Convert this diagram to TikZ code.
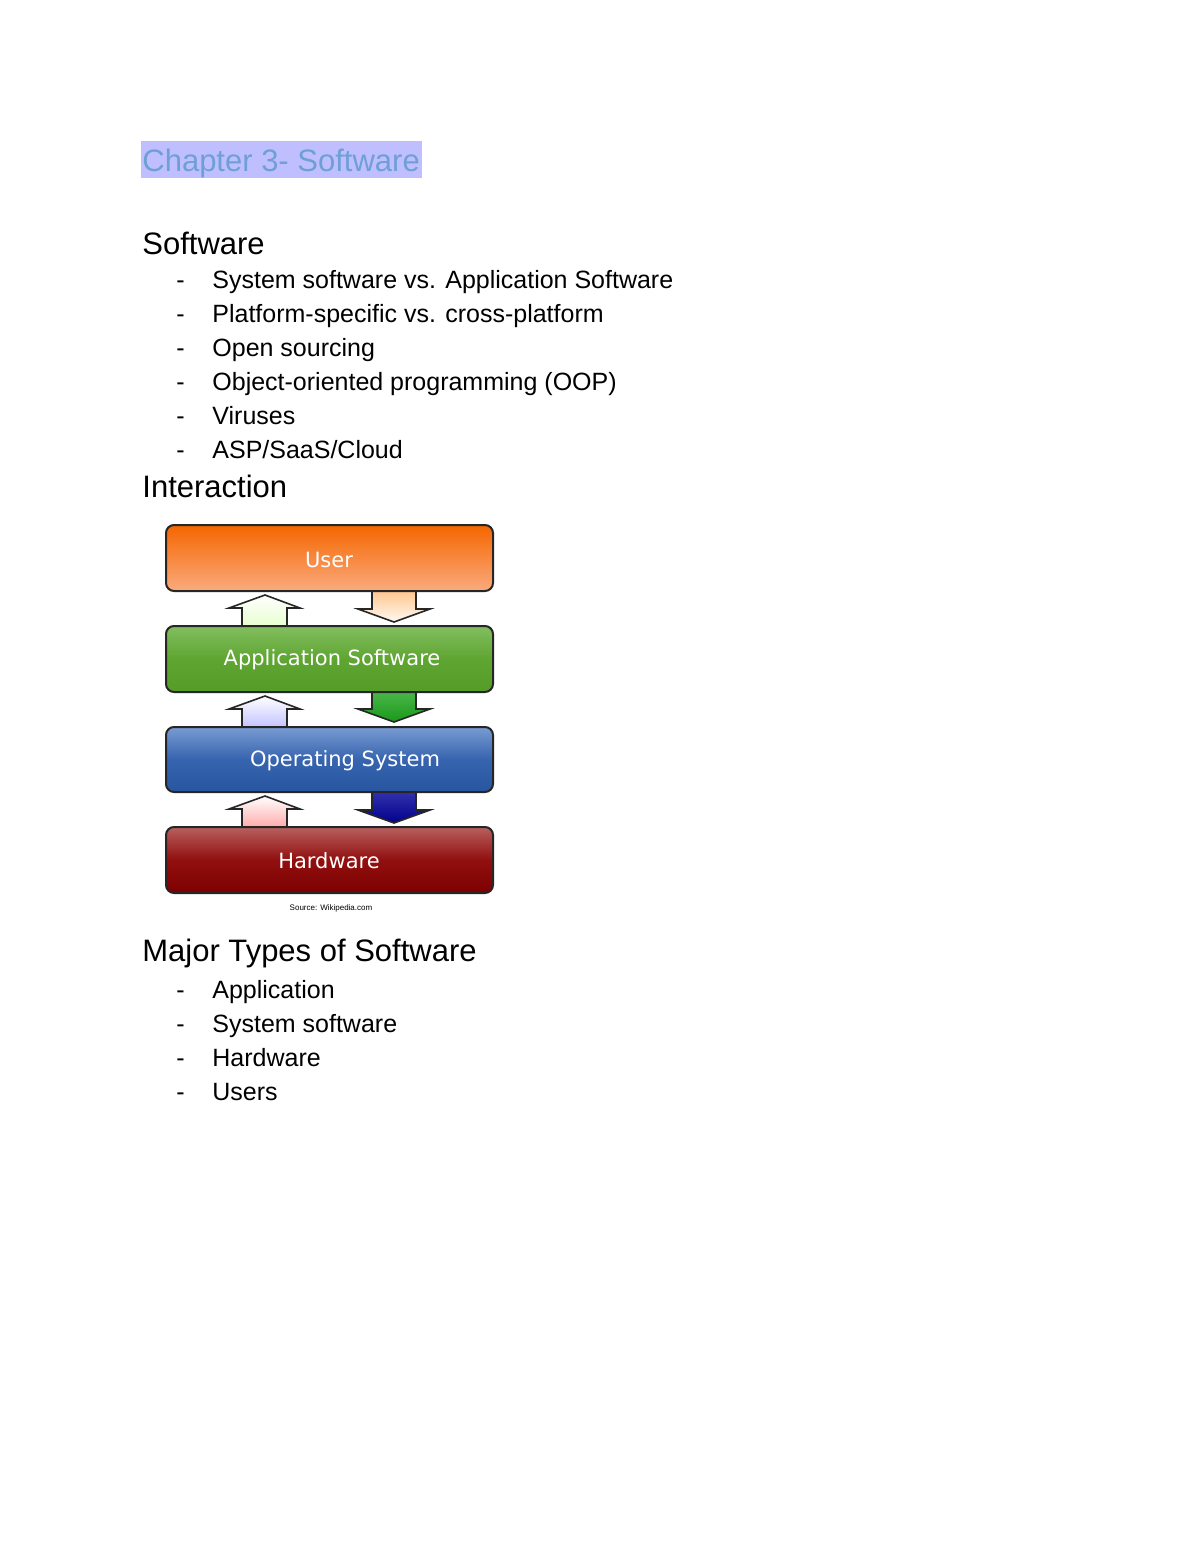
\documentclass[tikz,border=0pt]{standalone}
\usepackage{fontspec}
\setmainfont{Liberation Sans}
\newfontfamily\dejavu{DejaVu Sans}
\begin{document}
\begin{tikzpicture}[x=0.5pt,y=-0.5pt,
  txt/.style={anchor=base west,inner sep=0pt,font=\fontsize{12.5}{14}\selectfont},
  head/.style={anchor=base west,inner sep=0pt,font=\fontsize{15.5}{18}\selectfont},
  layer/.style={draw=black!85,line width=1pt,rounded corners=4pt},
  lab/.style={text=white,font=\dejavu\fontsize{10.5}{12}\selectfont,inner sep=0pt}]
\useasboundingbox (0,0) rectangle (1200,1553);
\fill[white] (0,0) rectangle (1200,1553);
% title
\fill[blue!30!cyan!20!white, fill=blue!25!white] (141,141) rectangle (422,178);
\node[head,text={rgb,255:red,110;green,160;blue,215}] (title) at (142,171) {Chapter 3- Software};
\node[head] (sw) at (142,254) {Software};
\foreach \t [count=\i] in {System software vs. Application Software,Platform-specific vs. cross-platform,Open sourcing,Object-oriented programming (OOP),Viruses,ASP/SaaS/Cloud}{
  \node[txt] (d\i) at (176,{288+34*(\i-1)}) {-};
  \node[txt] (b\i) at (212,{288+34*(\i-1)}) {\t};
}
\node[head] (inter) at (142,497) {Interaction};
% arrows
\newcommand\uparr[3]{% y top tip, top color, bottom color
  \shade[top color=#2,bottom color=#3,draw=black!85,line width=0.8pt]
   (265,#1) -- (300,{#1+13}) -- (287,{#1+13}) -- (287,{#1+33}) -- (242,{#1+33}) -- (242,{#1+13}) -- (229,{#1+13}) -- cycle;}
\newcommand\dnarr[3]{% y top, tip at y+32
  \shade[top color=#2,bottom color=#3,draw=black!85,line width=0.8pt]
   (372,#1) -- (416,#1) -- (416,{#1+19}) -- (430,{#1+19}) -- (394,{#1+32}) -- (358,{#1+19}) -- (372,{#1+19}) -- cycle;}
\uparr{595}{white}{green!35!lime!20!white}
\dnarr{590}{orange!45!white}{orange!5!white}
\uparr{696}{white}{blue!25!white}
\dnarr{690}{green!60!black!70!white}{green!55!black!90!white}
\uparr{796}{white}{red!35!white}
\dnarr{791}{blue!60!black!80!white}{blue!55!black}
% layers
\shade[layer,top color={rgb,255:red,245;green,102;blue,0},bottom color={rgb,255:red,250;green,170;blue,125}] (166,525) rectangle (493,591);
\node[lab] (u) at (329,560) {User};
\shade[layer,top color={rgb,255:red,130;green,190;blue,95},bottom color={rgb,255:red,85;green,155;blue,40},middle color={rgb,255:red,95;green,165;blue,50}] (166,626) rectangle (493,692);
\node[lab] (a) at (332,660) {Application Software};
\shade[layer,top color={rgb,255:red,120;green,155;blue,210},bottom color={rgb,255:red,40;green,85;blue,160},middle color={rgb,255:red,55;green,100;blue,175}] (166,727) rectangle (493,792);
\node[lab] (o) at (345,761) {Operating System};
\shade[layer,top color={rgb,255:red,185;green,95;blue,95},bottom color={rgb,255:red,125;green,0;blue,0},middle color={rgb,255:red,145;green,15;blue,15}] (166,827) rectangle (493,893);
\node[lab] (h) at (329,861) {Hardware};
\node[inner sep=0pt,font=\fontsize{4}{5}\selectfont] (src) at (331,908) {Source: Wikipedia.com};
\node[head] (maj) at (142,961) {Major Types of Software};
\foreach \t [count=\i] in {Application,System software,Hardware,Users}{
  \node[txt] (e\i) at (176,{998+34*(\i-1)}) {-};
  \node[txt] (f\i) at (212,{998+34*(\i-1)}) {\t};
}
\end{tikzpicture}
\end{document}
